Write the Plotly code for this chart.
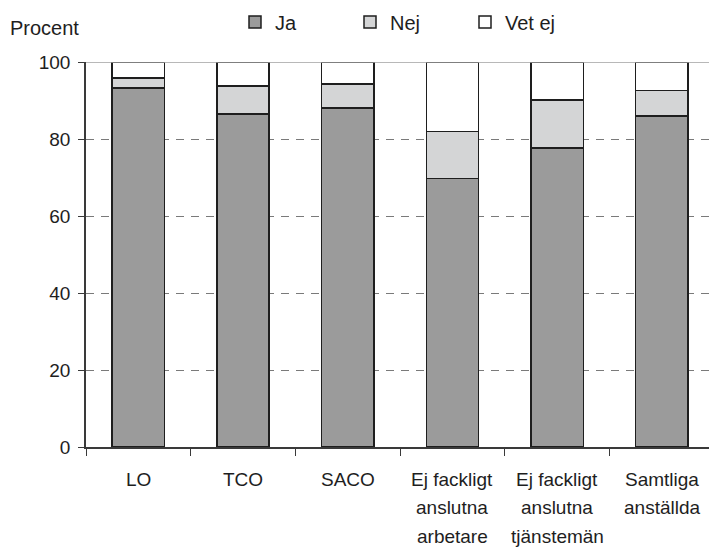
import plotly.graph_objects as go

categories = ["LO", "TCO", "SACO", "Ej fackligt<br>anslutna<br>arbetare",
              "Ej fackligt<br>anslutna<br>tjänstemän", "Samtliga<br>anställda"]
ja = [93.2, 86.5, 88.0, 69.8, 77.6, 86.0]
nej = [2.6, 7.3, 6.3, 12.1, 12.5, 6.6]
vet_ej = [round(100 - a - b, 1) for a, b in zip(ja, nej)]
y_ticks = [0, 20, 40, 60, 80, 100]

W, H = 709, 548
L, R, T, B = 86, 0, 62, 101
PW, PH = W - L - R, H - T - B

FONT = "Liberation Sans, Arial, sans-serif"
TXT = "#1e1e1e"
fig = go.Figure()
for name, vals, col in [("Ja", ja, "#9b9b9b"), ("Nej", nej, "#d4d5d6"), ("Vet ej", vet_ej, "#ffffff")]:
    fig.add_trace(go.Bar(
        x=list(range(len(categories))), y=vals, name=name, width=0.5,
        marker=dict(color=col, line=dict(color="#1e1e1e", width=1.5)),
    ))

# multi-line category labels
for i, c in enumerate(categories):
    for j, line in enumerate(c.split("<br>")):
        fig.add_annotation(x=i, xref="x", y=-(32 + j * 28.5) / PH, yref="paper",
                           text=line, showarrow=False, yanchor="middle",
                           font=dict(family=FONT, size=19, color=TXT))

fig.add_shape(type="line", xref="paper", yref="y", x0=0, x1=1, y0=100, y1=100,
              line=dict(color="#a0a0a0", width=1.5))

fig.update_layout(
    width=W, height=H,
    margin=dict(l=L, r=R, t=T, b=B, autoexpand=False),
    barmode="stack", bargap=0.5,
    paper_bgcolor="white", plot_bgcolor="white",
    font=dict(family=FONT, size=19, color=TXT),
    showlegend=True,
    legend=dict(orientation="h", xref="container", yref="container",
                x=235 / W, y=1 - 22 / H, xanchor="left", yanchor="middle",
                entrywidth=70, entrywidthmode="pixels", traceorder="normal",
                font=dict(family=FONT, size=20, color=TXT)),
    xaxis=dict(range=[-0.5, 5.45], showticklabels=False, tickmode="array",
               tickvals=[i - 0.5 for i in range(len(categories))],
               ticks="outside", ticklen=7, tickcolor="#3a3a3a", tickwidth=1,
               showline=True, linecolor="#3a3a3a", linewidth=1.5, showgrid=False,
               zeroline=False),
    yaxis=dict(range=[0, 100], tickvals=y_ticks, ticks="outside", ticklen=6,
               tickcolor="#3a3a3a", showline=True, linecolor="#3a3a3a", linewidth=1.5,
               showgrid=True, gridcolor="#7a7a7a", griddash="8px,7px", gridwidth=1,
               zeroline=False, tickfont=dict(size=19), ticklabelstandoff=4),
)
fig.add_annotation(x=(8 - L) / PW, xref="paper", y=(H - B - 28) / PH, yref="paper",
                   text="Procent", showarrow=False, xanchor="left", yanchor="middle",
                   font=dict(family=FONT, size=20, color=TXT))
fig.write_html("out.html", config={"displayModeBar": False},
               post_script="document.body.style.margin='0';document.body.style.overflow='hidden';")
